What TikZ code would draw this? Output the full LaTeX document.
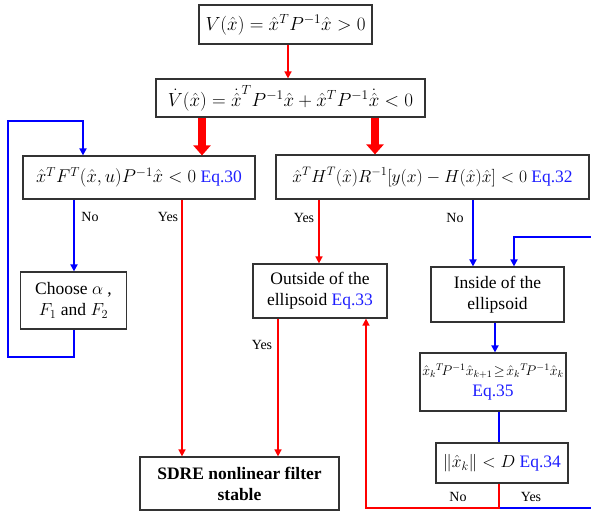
\RequirePackage{fix-cm}
\documentclass[tikz,border=0pt]{standalone}
\usepackage{fontspec}
\setmainfont{Liberation Serif}
\usetikzlibrary{arrows.meta}
\definecolor{eqblue}{RGB}{30,30,255}
\definecolor{lred}{RGB}{255,0,0}
\definecolor{lblue}{RGB}{0,0,255}
\begin{document}
\begin{tikzpicture}[x=1pt,y=-1pt,
  box/.style={draw=black!80, line width=1.2pt, inner sep=0pt, align=center, font=\fontsize{17.5}{21}\selectfont},
  bigmath/.style={font=\fontsize{19}{22}\selectfont},
  lab/.style={font=\fontsize{14}{16}\selectfont, inner sep=0pt},
  rl/.style={draw=lred, line width=1.5pt},
  bl/.style={draw=lblue, line width=2pt},
  tip/.style={-{Triangle[width=7pt,length=7pt]}},
  big/.style={draw=red, line width=8pt, -{Triangle[width=17pt,length=10pt]}}]
\path[use as bounding box] (0,0) rectangle (591,514);
\clip (0,0) rectangle (591,514);
\node[box, bigmath, minimum width=173pt, minimum height=39pt] (v) at (285.5,24.5)
  {$V(\hat{x}) = \hat{x}^T P^{-1}\hat{x} > 0$};
\node[box, bigmath, minimum width=269pt, minimum height=38pt] (vd) at (290.5,98)
  {$\dot{V}(\hat{x}) = \dot{\hat{x}}^T P^{-1}\hat{x} + \hat{x}^T P^{-1}\dot{\hat{x}} < 0$};
\node[box, minimum width=232pt, minimum height=43pt] (c1) at (139,177.5)
  {\fontsize{18.5}{22}\selectfont$\hat{x}^T F^T(\hat{x},u)P^{-1}\hat{x} < 0$ \fontsize{17.5}{21}\selectfont\textcolor{eqblue}{Eq.30}};
\node[box, minimum width=313pt, minimum height=44pt] (c2) at (432.5,177)
  {$\hat{x}^T H^T(\hat{x})R^{-1}\bigl[y(x) - H(\hat{x})\hat{x}\bigr] < 0$ \textcolor{eqblue}{Eq.32}};
\node[box, minimum width=106pt, minimum height=57pt] (ch) at (73.5,300.5)
  {Choose $\alpha$ ,\\ $F_1$ and $F_2$};
\node[box, minimum width=134pt, minimum height=54pt] (out) at (320,291)
  {Outside of the\\ ellipsoid \textcolor{eqblue}{Eq.33}};
\node[box, minimum width=133pt, minimum height=55pt] (in) at (497.5,294.5)
  {Inside of the\\ ellipsoid};
\node[box, minimum width=146pt, minimum height=58pt] (e35) at (493,382)
  {{\fontsize{14}{18}\selectfont$\hat{x}_k{}^T\!P^{-1}\hat{x}_{k+1}\!\ge\!\hat{x}_k{}^T\!P^{-1}\hat{x}_k$}\\ \textcolor{eqblue}{Eq.35}};
\node[box, minimum width=132pt, minimum height=40pt] (d) at (502,463)
  {$\|\hat{x}_k\| < D$ \textcolor{eqblue}{Eq.34}};
\node[box, minimum width=199pt, minimum height=53pt] (s) at (239.5,483.5)
  {\bfseries SDRE nonlinear filter\\ \bfseries stable};
% connectors
\draw[rl,tip] (v.south -| 288,0) -- (vd.north -| 288,0);
\draw[big] (vd.south -| 202,0) -- (c1.north -| 202,0);
\draw[big] (vd.south -| 375,0) -- (c2.north -| 375,0);
\draw[bl,tip] (c1.south -| 74,0) -- (ch.north -| 74,0);
\draw[bl,tip] (ch.south -| 74,0) |- (8,357) -- (8,121) -| (c1.north -| 83,0);
\draw[rl,tip] (c1.south -| 182,0) -- (s.north -| 182,0);
\draw[rl,tip] (c2.south -| 319,0) -- (out.north -| 319,0);
\draw[bl,tip] (c2.south -| 473,0) -- (in.north -| 473,0);
\draw[rl,tip] (out.south -| 278,0) -- (s.north -| 278,0);
\draw[bl,tip] (in.south -| 495,0) -- (e35.north -| 495,0);
\draw[bl] (e35.south -| 499,0) -- (d.north -| 499,0);
\draw[bl,tip] (499,508) -- (598,508) |- (514,237) -- (in.north -| 514,0);
\draw[rl,tip] (d.south -| 499,0) -- (499,508) -| (out.south -| 366,0);
% labels
\node[lab] (l1) at (90,217) {No};
\node[lab] (l2) at (168,217) {Yes};
\node[lab] (l3) at (304,218) {Yes};
\node[lab] (l4) at (455,218) {No};
\node[lab] (l5) at (262,345) {Yes};
\node[lab] (l6) at (458,497) {No};
\node[lab] (l7) at (531,497) {Yes};
\end{tikzpicture}
\end{document}
